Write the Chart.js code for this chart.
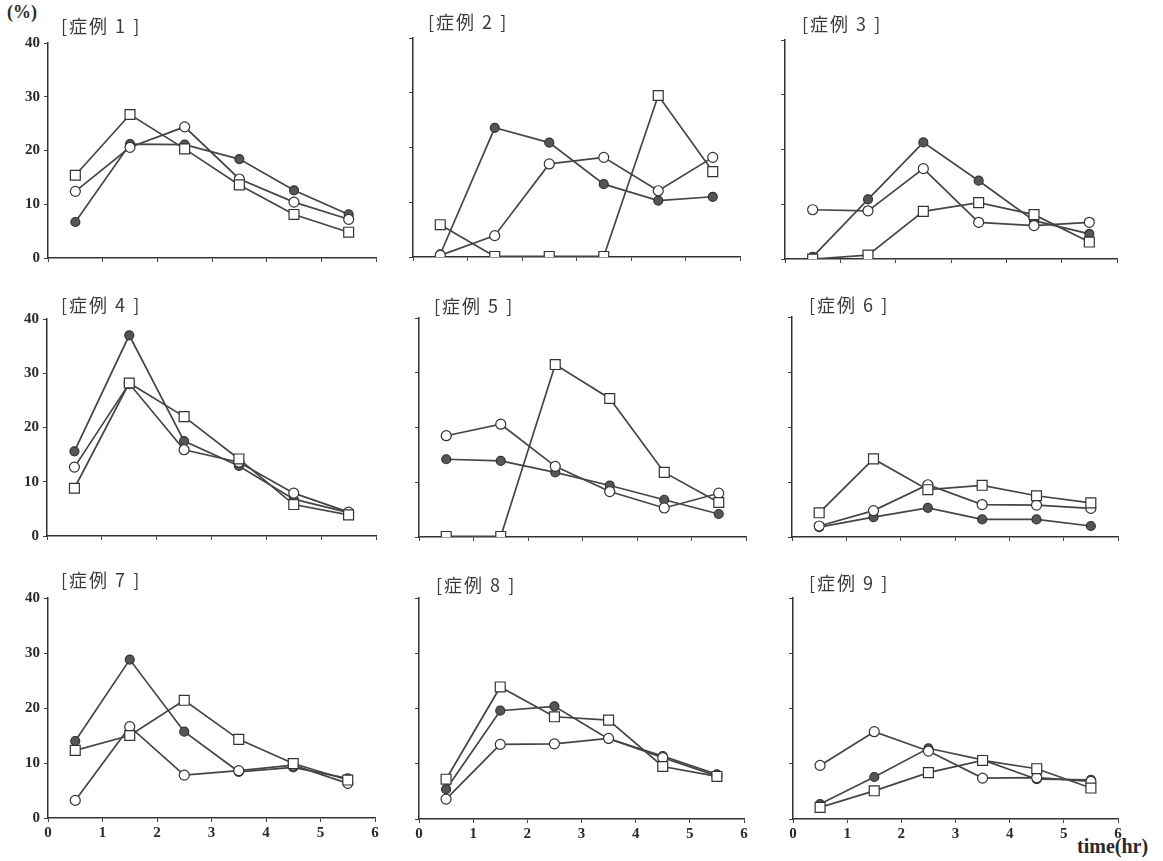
<!DOCTYPE html>
<html>
<head>
<meta charset="utf-8">
<script src="https://cdn.jsdelivr.net/npm/chart.js@4.4.1/dist/chart.umd.min.js"></script>
<style>
  body { margin: 0; background: #fff; }
  #wrap { position: relative; width: 1163px; height: 861px; overflow: hidden; background: #fff; }
  canvas { position: absolute; }
  .title { position: absolute; font-family: "Noto Sans CJK JP", "Noto Sans", sans-serif; font-size: 18px; line-height: 18px; letter-spacing: 2px; color: #3a3a3a; white-space: pre; }
  .unit { position: absolute; font-family: "Liberation Serif", "DejaVu Serif", serif; color: #2a2a2a; font-weight: bold; }
</style>
</head>
<body>
<div id="wrap">
  <div class="unit" style="left:7px; top:2px; font-size:18px;">(%)</div>
  <div class="unit" style="left:1077px; top:835px; font-size:20px;">time(hr)</div>
</div>
<script>
// sampling times (hr)
const times = [0.5, 1.5, 2.5, 3.5, 4.5, 5.5];

const caseTitles = ['[症例 1 ]', '[症例 2 ]', '[症例 3 ]', '[症例 4 ]', '[症例 5 ]',
                    '[症例 6 ]', '[症例 7 ]', '[症例 8 ]', '[症例 9 ]'];

// filled circles, one row per case (%)
const filledData = [
  [6.7, 21.2, 21.1, 18.4, 12.6, 8.1],
  [0.5, 23.6, 20.9, 13.3, 10.3, 11.0],
  [0.4, 10.9, 21.3, 14.3, 7.0, 4.6],
  [15.6, 37.0, 17.5, 12.9, 6.8, 4.3],
  [14.2, 13.9, 11.8, 9.4, 6.8, 4.2],
  [1.8, 3.6, 5.3, 3.2, 3.2, 2.0],
  [14.0, 28.8, 15.7, 8.4, 9.2, 7.2],
  [5.4, 19.6, 20.4, 14.5, 11.4, 8.1],
  [2.7, 7.6, 12.8, 10.7, 7.2, 7.1]
];

// open circles
const openData = [
  [12.4, 20.6, 24.4, 14.7, 10.4, 7.2],
  [0.3, 3.9, 17.0, 18.2, 12.1, 18.2],
  [9.0, 8.8, 16.5, 6.7, 6.1, 6.7],
  [12.7, 28.1, 15.9, 13.6, 7.9, 4.4],
  [18.5, 20.6, 12.9, 8.3, 5.3, 8.0],
  [2.0, 4.8, 9.5, 5.9, 5.8, 5.2],
  [3.2, 16.6, 7.8, 8.6, 9.6, 6.3],
  [3.6, 13.5, 13.6, 14.6, 11.1, 7.8],
  [9.7, 15.8, 12.3, 7.4, 7.5, 6.8]
];

// open squares
const squareData = [
  [15.4, 26.7, 20.3, 13.6, 8.1, 4.8],
  [5.9, 0.1, 0.1, 0.1, 29.5, 15.6],
  [0.0, 0.7, 8.7, 10.3, 8.1, 3.1],
  [8.8, 28.2, 22.0, 14.2, 5.8, 3.9],
  [0.1, 0.1, 31.5, 25.3, 11.8, 6.3],
  [4.4, 14.2, 8.6, 9.4, 7.5, 6.2],
  [12.3, 15.0, 21.4, 14.3, 9.9, 6.9],
  [7.2, 23.9, 18.5, 17.9, 9.5, 7.7],
  [2.1, 5.1, 8.4, 10.6, 9.1, 5.6]
];

// plot boxes on the page: [x at 0, y at 40, x at 6, y at 0] and title position
const boxes = [
  [48, 40, 376, 258], [413, 38, 740, 257], [785, 40, 1117, 259],
  [47, 316, 376, 536], [419, 318, 746, 537], [792, 317, 1118, 537],
  [48, 595, 375, 818], [419, 598, 744, 819], [793, 598, 1118, 819]
];
const titlePos = [
  [61, 16], [428, 12], [802, 14],
  [61, 295], [434, 296], [809, 295],
  [61, 570], [436, 575], [809, 573]
];

const LEFT = 48, TOP = 10, RIGHT = 10, BOTTOM = 35;
const lineColor = '#454545';
const tickFont = { family: '"Liberation Serif", "DejaVu Serif", serif', size: 15, weight: 'bold' };

function toPoints(values) {
  return values.map((v, i) => ({ x: times[i], y: v }));
}

function renderCaseChart(idx) {
  const wrap = document.getElementById('wrap');
  const [l, t, r, b] = boxes[idx];
  const canvas = document.createElement('canvas');
  const w = (r - l) + LEFT + RIGHT;
  const h = (b - t) + TOP + BOTTOM;
  canvas.width = w;
  canvas.height = h;
  canvas.style.left = (l - LEFT) + 'px';
  canvas.style.top = (t - TOP) + 'px';
  canvas.style.width = w + 'px';
  canvas.style.height = h + 'px';
  wrap.appendChild(canvas);

  const title = document.createElement('div');
  title.className = 'title';
  title.textContent = caseTitles[idx];
  title.style.left = titlePos[idx][0] + 'px';
  title.style.top = titlePos[idx][1] + 'px';
  wrap.appendChild(title);

  const showY = idx % 3 === 0;
  const showX = idx >= 6;

  const base = {
    borderColor: lineColor,
    borderWidth: 1.7,
    pointBorderColor: '#333',
    pointBorderWidth: 1.2,
    tension: 0
  };

  new Chart(canvas, {
    type: 'line',
    data: {
      datasets: [
        Object.assign({}, base, {
          label: 'square',
          data: toPoints(squareData[idx]),
          pointStyle: 'rect',
          pointRadius: 7,
          pointBackgroundColor: '#fff'
        }),
        Object.assign({}, base, {
          label: 'open',
          data: toPoints(openData[idx]),
          pointStyle: 'circle',
          pointRadius: 5,
          pointBackgroundColor: '#fff'
        }),
        Object.assign({}, base, {
          label: 'filled',
          data: toPoints(filledData[idx]),
          pointStyle: 'circle',
          pointRadius: 4.5,
          pointBackgroundColor: '#555'
        })
      ]
    },
    options: {
      responsive: false,
      animation: false,
      devicePixelRatio: 1,
      layout: { padding: { top: TOP, right: RIGHT, left: 0, bottom: 0 } },
      plugins: {
        legend: { display: false },
        tooltip: { enabled: false }
      },
      scales: {
        x: {
          type: 'linear',
          min: 0,
          max: 6,
          ticks: {
            stepSize: 1,
            display: showX,
            color: '#2a2a2a',
            font: tickFont,
            padding: 2
          },
          grid: { drawOnChartArea: false, tickLength: 4, color: '#444' },
          border: { color: '#333', width: 1.5 },
          afterFit: function(scale) { scale.height = BOTTOM; }
        },
        y: {
          min: 0,
          max: 40,
          ticks: {
            stepSize: 10,
            display: showY,
            color: '#2a2a2a',
            font: tickFont,
            padding: 4
          },
          grid: { drawOnChartArea: false, tickLength: 4, color: '#444' },
          border: { color: '#333', width: 1.5 },
          afterFit: function(scale) { scale.width = LEFT; }
        }
      }
    }
  });
}

for (let i = 0; i < 9; i++) {
  renderCaseChart(i);
}
</script>
</body>
</html>
